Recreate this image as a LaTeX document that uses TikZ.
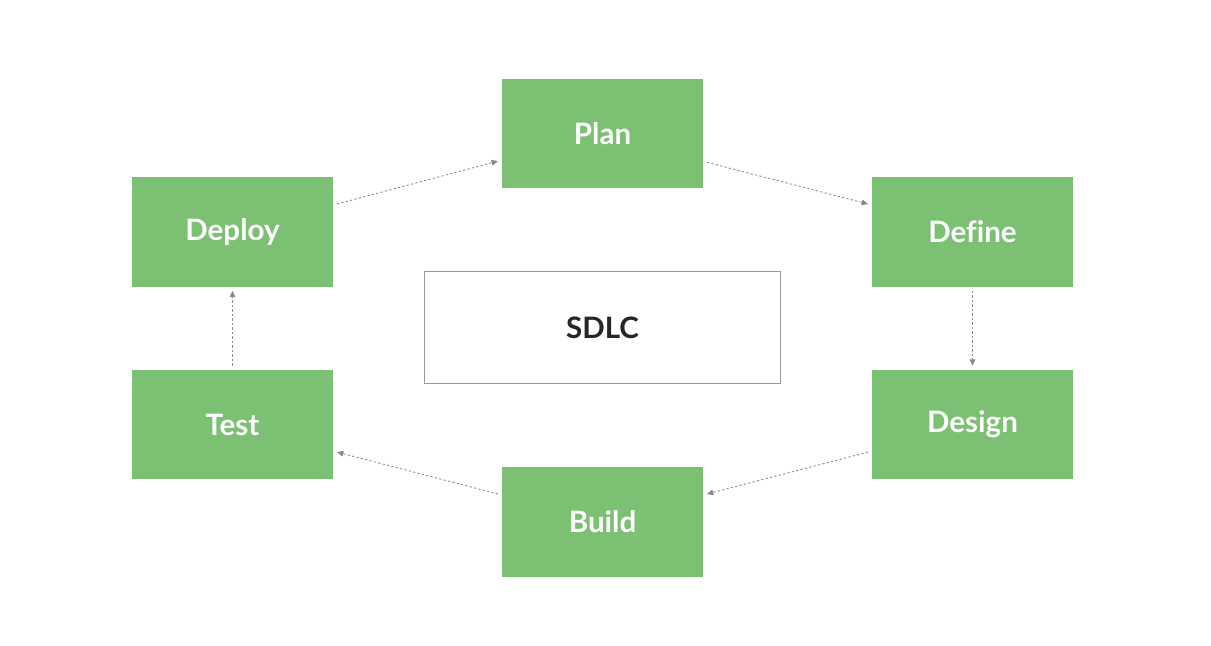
\documentclass[tikz,border=0pt]{standalone}
\usepackage{fontspec}
\setmainfont[Ligatures=NoCommon]{Lato}
\usetikzlibrary{arrows.meta}
\definecolor{stepgreen}{HTML}{7BC073}
\definecolor{flowgray}{HTML}{8A8A8A}

\begin{document}
\begin{tikzpicture}[x=0.025cm,y=-0.025cm]

      \fill[white] (0,0) rectangle (1211,645);

      \begin{scope}[every node/.style={fill=stepgreen,text=white,minimum width=5.025cm,
          minimum height=2.74cm,outer sep=0.1cm,font=\fontsize{21}{24}\selectfont\bfseries}]
        \node (plan)   at (602.5,133.5) {Plan};
        \node (define) at (972.5,232)   {Define};
        \node (design) at (972.5,424.5) {Design};
        \node (build)  at (602.5,522)   {Build};
        \node (test)   at (232.5,424.5) {Test};
        \node (deploy) at (232.5,232)   {Deploy};
      \end{scope}

      \node[draw=gray!80,line width=0.7pt,minimum width=8.875cm,minimum height=2.775cm,
        text=black!85,font=\fontsize{21}{24}\selectfont\bfseries] (sdlc) at (602.5,327.5) {SDLC};

      \begin{scope}[every edge/.style={draw=flowgray,line width=0.6pt,
          dash pattern=on 1.6pt off 1.6pt,-{Triangle[length=4.5pt,width=4pt]}}]
        \path ([yshift=0.7cm]deploy.east) edge ([yshift=-0.69cm]plan.west);
        \path ([yshift=-0.72cm]plan.east) edge ([yshift=0.7cm]define.west);
        \path (define.south) edge (design.north);
        \path ([yshift=-0.69cm]design.west) edge ([yshift=0.7cm]build.east);
        \path ([yshift=0.7cm]build.west) edge ([yshift=-0.69cm]test.east);
        \path (test.north) edge (deploy.south);
      \end{scope}

    \end{tikzpicture}
\end{document}
